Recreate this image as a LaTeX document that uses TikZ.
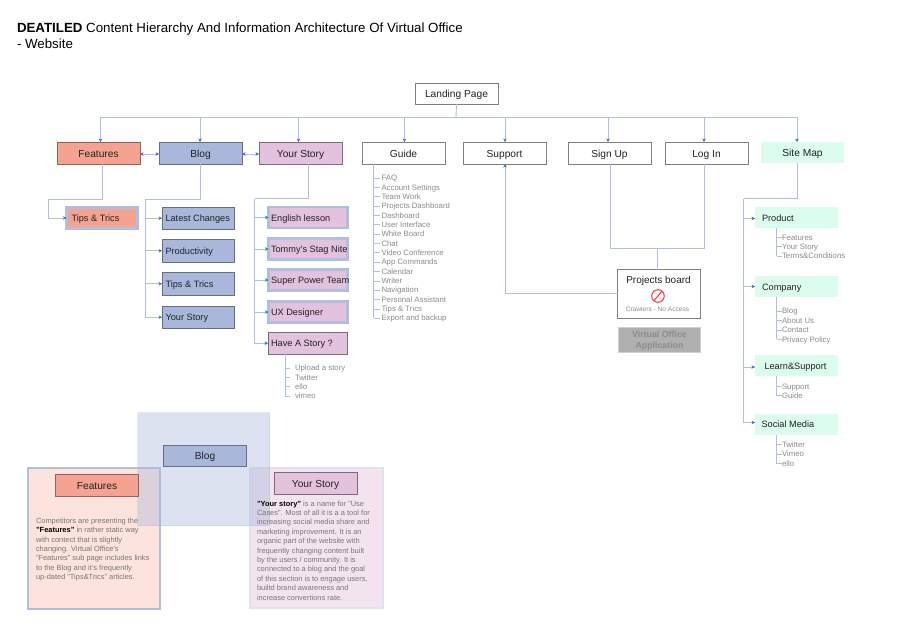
\documentclass[tikz,border=0pt]{standalone}
\usepackage{fontspec}
\setmainfont{Liberation Sans}
\usetikzlibrary{arrows.meta,calc}
\definecolor{lineblue}{HTML}{B0BFE0}
\definecolor{tipblue}{HTML}{4A6DB5}
\definecolor{salmon}{HTML}{F4A391}
\definecolor{blogblue}{HTML}{A9B8DA}
\definecolor{storypink}{HTML}{E2C2DC}
\definecolor{mint}{HTML}{DCFDEE}
\definecolor{listgray}{HTML}{8C8C8C}
\definecolor{inktext}{HTML}{222222}
\newcommand\lbl[2]{\makebox[#1pt][l]{#2}}
\tikzset{
  every node/.style={inner sep=0pt,outer sep=0pt,text=inktext},
  conn/.style={draw=lineblue,line width=0.9pt,line join=miter},
  tipped/.style={conn,-{Stealth[length=3.5pt,width=3.6pt,color=tipblue]}},
  both/.style={conn,{Stealth[length=3.5pt,width=3.6pt,color=tipblue]}-{Stealth[length=3.5pt,width=3.6pt,color=tipblue]}},
  thin conn/.style={draw=lineblue,line width=0.7pt},
  bx/.style={anchor=north west,draw=#1,line width=0.9pt,font=\fontsize{10.2}{12}\selectfont,text height=9pt,text depth=0.8pt},
  bx/.default=gray,
  white box/.style={bx=gray,fill=white,minimum width=83pt,minimum height=22pt},
  feat box/.style={bx=salmon!60!black,fill=salmon,minimum width=83pt,minimum height=22pt},
  blog box/.style={bx=blogblue!60!black,fill=blogblue,minimum width=83pt,minimum height=22pt},
  story box/.style={bx=storypink!55!black,fill=storypink,minimum width=83pt,minimum height=22pt},
  mint box/.style={anchor=north west,fill=mint,minimum width=83pt,minimum height=21pt,font=\fontsize{10.2}{12}\selectfont,text height=9pt,text depth=0.8pt},
  small label/.style={font=\fontsize{9.2}{11}\selectfont,text height=8.4pt,text depth=1pt},
  hi box/.style={anchor=north west,draw=lineblue,line width=2.2pt,minimum height=21pt,small label},
  blog sub/.style={bx=blogblue!60!black,fill=blogblue,minimum width=72pt,minimum height=22.5pt,small label},
  item/.style={anchor=base west,text=listgray,font=\fontsize{7.8}{9}\selectfont},
  para/.style={anchor=north west,align=left,text=listgray!85!black,font=\fontsize{7.45}{9.4}\selectfont},
}
\begin{document}
\begin{tikzpicture}[x=1pt,y=-1pt]
\useasboundingbox (0,0) rectangle (897,630);
\fill[white] (0,0) rectangle (897,630);

% Title
\node[anchor=base west,text=black,font=\fontsize{13.3}{15}\selectfont] (title1) at (17,32) {\textbf{DEATILED} Content Hierarchy And Information Architecture Of Virtual Office};
\node[anchor=base west,text=black,font=\fontsize{13.3}{15}\selectfont] (title2) at (17,48) {- Website};

% Top level
\node[white box,minimum height=21pt] (landing) at (415,83) {Landing Page};
\node[feat box] (features) at (57,142) {Features};
\node[blog box] (blog) at (159,142) {Blog};
\node[story box] (story) at (259,142) {Your Story};
\node[white box] (guide) at (362,142) {Guide};
\node[white box] (support) at (463,142) {Support};
\node[white box] (signup) at (568,142) {Sign Up};
\node[white box] (login) at (665,142) {Log In};
\node[mint box] (sitemap) at (761,142) {Site Map};

\coordinate (trunk) at (456,117);
\draw[conn] (landing.south) -- (trunk);
\coordinate (busL) at (100.5,117);
\coordinate (busR) at (797,117);
\draw[conn] (busL) -- (busR);
\foreach \n/\x in {features/100.5,blog/200,story/298.5,guide/404.5,support/505,signup/608,login/704,sitemap/797}
  \draw[tipped] (\x,117) -- (\n.north -| \x,0);
\draw[both] (features.east |- 0,154) -- (blog.west |- 0,154);
\draw[both] (blog.east |- 0,154) -- (story.west |- 0,154);

% Features branch
\node[hi box,fill=salmon,minimum width=71pt] (tips) at (66.5,207.5) {\lbl{71}{\hspace{5pt}Tips \& Trics}};
\draw[tipped] (102.5,164) |- (48,199) |- (tips.west);

% Blog branch
\node[blog sub] (latest) at (162,207) {\lbl{72}{\hspace{3.5pt}Latest Changes}};
\node[blog sub] (prod) at (162,239.5) {\lbl{72}{\hspace{3.5pt}Productivity}};
\node[blog sub] (tipsb) at (162,272.5) {\lbl{72}{\hspace{3.5pt}Tips \& Trics}};
\node[blog sub] (storyb) at (162,306) {\lbl{72}{\hspace{3.5pt}Your Story}};
\coordinate (blogbend) at (145.5,199);
\draw[conn] (200.5,164) |- (blogbend);
\draw[tipped] (blogbend) |- (storyb.west);
\foreach \n in {latest,prod,tipsb}
  \draw[tipped] (blogbend |- \n.west) -- (\n.west);

% Story branch
\node[hi box,fill=storypink,minimum width=79pt] (eng) at (268.5,207) {\lbl{79}{\hspace{2.5pt}English lesson}};
\node[hi box,fill=storypink,minimum width=79pt] (tommy) at (268.5,238.5) {\lbl{79}{\hspace{2.5pt}Tommy's Stag Nite}};
\node[hi box,fill=storypink,minimum width=79pt] (super) at (268.5,269.5) {\lbl{79}{\hspace{2.5pt}Super Power Team}};
\node[hi box,fill=storypink,minimum width=79pt] (ux) at (268.5,301.5) {\lbl{79}{\hspace{2.5pt}UX Designer}};
\node[bx=storypink!55!black,fill=storypink,minimum width=79.5pt,minimum height=21.5pt,small label] (have) at (268,332.5) {\lbl{79.5}{\hspace{3pt}Have A Story ?}};
\coordinate (storybend) at (254.5,198.5);
\draw[conn] (308,164) |- (storybend);
\draw[tipped] (storybend) |- (have.west);
\foreach \n in {eng,tommy,super,ux}
  \draw[tipped] (storybend |- \n.west) -- (\n.west);

% Lists
\foreach \t [count=\i] in {Upload a story,Twitter,ello,vimeo}{
  \pgfmathsetmacro\yy{370.7+(\i-1)*9.4}
  \node[item] (havei\i) at (295,\yy) {\t};
  \draw[thin conn] (285,\yy-2.7) -- (290,\yy-2.7);
}
\draw[thin conn] (285,354) -- (285,396.3);

\foreach \t [count=\i] in {FAQ,Account Settings,Team Work,Projects Dashboard,Dashboard,User Interface,White Board,Chat,Video Conference,App Commands,Calendar,Writer,Navigation,Personal Assistant,Tips \& Trics,Export and backup}{
  \pgfmathsetmacro\yy{180.7+(\i-1)*9.35}
  \node[item] (guidei\i) at (381.5,\yy) {\t};
  \draw[thin conn] (373.5,\yy-2.7) -- (379.5,\yy-2.7);
}
\draw[thin conn] (373.5,164) -- (373.5,318.2);

% Projects board
\node[anchor=north west,draw=gray,line width=0.9pt,fill=white,minimum width=82.5pt,minimum height=48.5pt] (board) at (617.5,269.5) {};
\node[font=\fontsize{10}{12}\selectfont] (boardt) at (658.5,280.5) {Projects board};
\node[circle,draw=red!75!white,line width=1.1pt,minimum size=12.5pt] (noaccess) at (658,296) {};
\draw[draw=red!75!white,line width=1.1pt] (noaccess.50) -- (noaccess.230);
\node[text=listgray,font=\fontsize{6.6}{8}\selectfont] (crawl) at (657.5,309.2) {Crawlers - No Access};
\node[anchor=north west,draw=black!18,fill=black!31,line width=0.6pt,minimum width=82pt,minimum height=25pt,align=center,text=black!45,font=\bfseries\fontsize{8.8}{11.2}\selectfont] (voa) at (618.5,326.8) {\rule{0pt}{10pt}Virtual Office\\Application};

\coordinate (joinL) at (610,248.5);
\coordinate (joinR) at (704.5,248.5);
\draw[conn] (610,164) -- (joinL) -- (joinR) -- (704.5,164);
\draw[conn] (657,248.5) -- (657,269.5);
\draw[tipped] (board.west |- 0,293) -| (505,164);

% Site map
\foreach \n/\t/\y/\lab in {product/Product/207/7,company/Company/276/7,learn/Learn\&Support/355/9.5,social/Social Media/413.5/6.5}
  \node[mint box,minimum height=21.3pt,small label] (\n) at (755,\y) {\lbl{83}{\hspace{\lab pt}\t}};
\coordinate (sitebend) at (743.5,198.5);
\draw[conn] (797.5,163) |- (sitebend);
\draw[conn] (sitebend) -- (743.5,422.5);
\foreach \n/\y in {product/218.5,company/286.5,learn/367,social/422.5}
  \draw[tipped] (743.5,\y) -- (\n.west |- 0,\y);

\foreach \t [count=\i] in {Features,Your Story,Terms\&Conditions}{
  \pgfmathsetmacro\yy{240.1+(\i-1)*9.4}
  \node[item] (pi\i) at (782,\yy) {\t};
  \draw[thin conn] (776.5,\yy-2.7) -- (782,\yy-2.7);
}
\draw[thin conn] (776.5,228.3) -- (776.5,256);
\foreach \t [count=\i] in {Blog,About Us,Contact,Privacy Policy}{
  \pgfmathsetmacro\yy{313.8+(\i-1)*9.4}
  \node[item] (ci\i) at (782,\yy) {\t};
  \draw[thin conn] (776.5,\yy-2.7) -- (782,\yy-2.7);
}
\draw[thin conn] (776.5,297.3) -- (776.5,339.3);
\foreach \t [count=\i] in {Support,Guide}{
  \pgfmathsetmacro\yy{389+(\i-1)*9.4}
  \node[item] (li\i) at (782,\yy) {\t};
  \draw[thin conn] (776.5,\yy-2.7) -- (782,\yy-2.7);
}
\draw[thin conn] (776.5,376.3) -- (776.5,395.7);
\foreach \t [count=\i] in {Twitter,Vimeo,ello}{
  \pgfmathsetmacro\yy{447.5+(\i-1)*9.4}
  \node[item] (si\i) at (782,\yy) {\t};
  \draw[thin conn] (776.5,\yy-2.7) -- (782,\yy-2.7);
}
\draw[thin conn] (776.5,434.8) -- (776.5,463.6);

% Bottom panels
\fill[salmon!30!white] (28,468) rectangle (160,608.5);
\draw[lineblue,line width=2pt] (28,468) rectangle (160,608.5);
\fill[storypink!45!white] (250,468) rectangle (383,608);
\draw[lineblue!45!white,line width=1.6pt] (250,468) rectangle (383,608);
\fill[blogblue,opacity=0.4] (137.5,412.5) rectangle (269.5,525.5);
\draw[blogblue,opacity=0.3,line width=0.9pt] (137.5,412.5) rectangle (269.5,525.5);
\node[blog box,minimum height=21.5pt] (blog2) at (163.5,445) {Blog};
\node[feat box] (features2) at (55.5,474.5) {Features};
\node[story box,minimum height=21.5pt] (story2) at (274,472.5) {Your Story};
\node[para] (ftext) at (36,517.8) {Competitors are presenting the\\\textcolor{black}{\textbf{"Features"}} in rather static way\\with contect that is slightly\\changing. Virtual Office's\\"Features" sub page includes links\\to the Blog and it's frequently\\up-dated "Tips\&Trics" articles.};
\node[para] (stext) at (257,500.6) {\textcolor{black}{\textbf{"Your story"}} is a name for "Use\\Cases". Most of all it is a a tool for\\increasing social media share and\\marketing improvement. It is an\\organic part of the website with\\frequently changing content built\\by the users / community. It is\\connected to a blog and the goal\\of this section is to engage users,\\builtd brand awareness and\\increase convertions rate.};
\end{tikzpicture}
\end{document}
